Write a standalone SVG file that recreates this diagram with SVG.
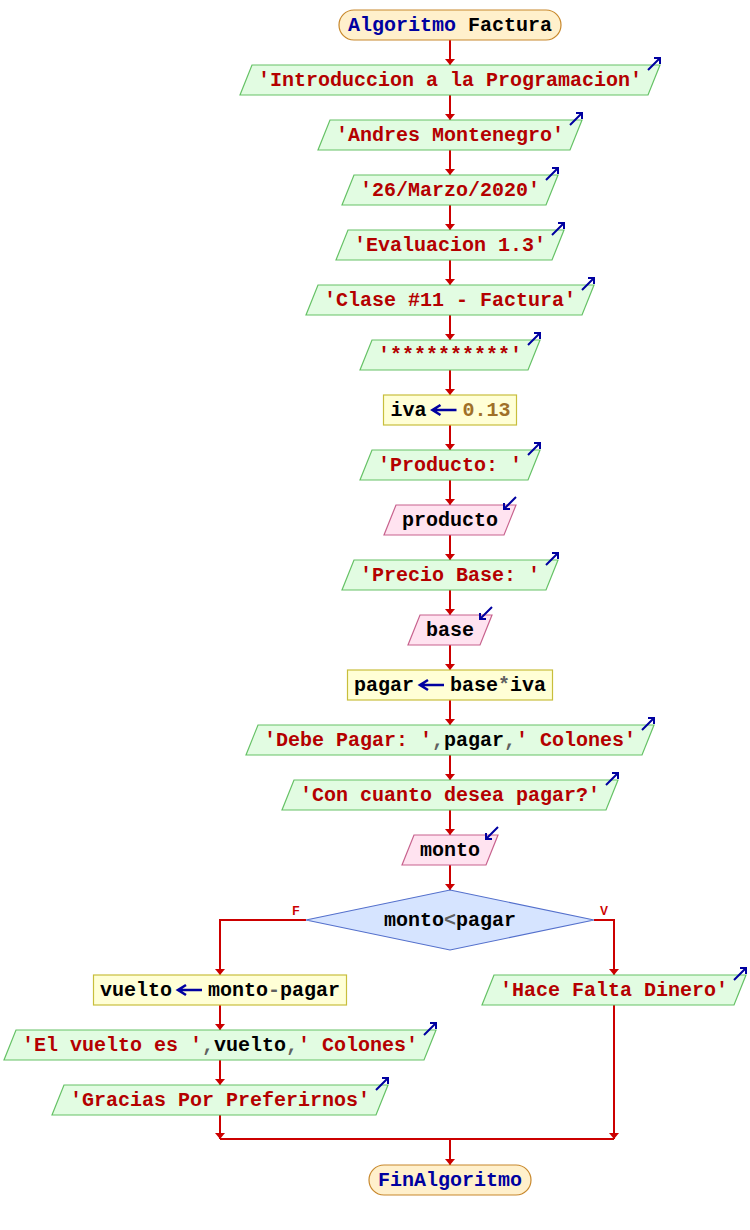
<svg xmlns="http://www.w3.org/2000/svg" xmlns:xlink="http://www.w3.org/1999/xlink" width="750" height="1230" viewBox="0 0 750 1230">
  <style>
    text { font-family: "Liberation Mono", "DejaVu Sans Mono", monospace; font-size: 20px; font-weight: bold; fill: #000; }
    .c { text-anchor: middle; }
    .kw { fill: #0000a0; }
    .str { fill: #b40000; }
    .num { fill: #a07028; }
    .op { fill: #606060; }
    .lbl { font-family: "Liberation Sans", Arial, sans-serif; font-size: 12px; font-weight: bold; fill: #cc0000; text-anchor: middle; }
    .term { fill: #fff0cc; stroke: #c8882c; stroke-width: 1.2; }
    .out { fill: #e2fce2; stroke: #66c266; stroke-width: 1.2; }
    .in { fill: #ffe3f0; stroke: #c8638e; stroke-width: 1.2; }
    .asg { fill: #ffffd6; stroke: #c8be3c; stroke-width: 1.2; }
    .dec { fill: #d6e4ff; stroke: #5470cc; stroke-width: 1.2; }
    .icon { fill: none; stroke: #0000a0; stroke-width: 2; }
    .larrow { fill: none; stroke: #0000a0; stroke-width: 2.6; }
    .conn path { fill: none; stroke: #cc0000; stroke-width: 2; }
  </style>
  <defs>
    <marker id="ah" viewBox="0 0 6 10" refX="6" refY="5" markerWidth="6" markerHeight="10" markerUnits="userSpaceOnUse" orient="auto">
      <path d="M0,0 L6,5 L0,10 z" fill="#cc0000"/>
    </marker>
    <!-- output marker: arrow leaving the top-right corner -->
    <path id="outIcon" class="icon" d="M-12,5 L0,-7 M-6,-7 L0,-7 L0,-1"/>
    <!-- input marker: arrow entering the top-right corner -->
    <path id="inIcon" class="icon" d="M0,-8 L-12,4 M-12,-2 L-12,4 L-6,4"/>
  </defs>

  <!-- connectors -->
  <g id="connectors" class="conn">
    <path d="M450,40 V65" marker-end="url(#ah)"/>
    <path d="M450,95 V120" marker-end="url(#ah)"/>
    <path d="M450,150 V175" marker-end="url(#ah)"/>
    <path d="M450,205 V230" marker-end="url(#ah)"/>
    <path d="M450,260 V285" marker-end="url(#ah)"/>
    <path d="M450,315 V340" marker-end="url(#ah)"/>
    <path d="M450,370 V395" marker-end="url(#ah)"/>
    <path d="M450,425 V450" marker-end="url(#ah)"/>
    <path d="M450,480 V505" marker-end="url(#ah)"/>
    <path d="M450,535 V560" marker-end="url(#ah)"/>
    <path d="M450,590 V615" marker-end="url(#ah)"/>
    <path d="M450,645 V670" marker-end="url(#ah)"/>
    <path d="M450,700 V725" marker-end="url(#ah)"/>
    <path d="M450,755 V780" marker-end="url(#ah)"/>
    <path d="M450,810 V835" marker-end="url(#ah)"/>
    <path d="M450,865 V890" marker-end="url(#ah)"/>
    <path d="M306,920 H220 V975" marker-end="url(#ah)"/>
    <path d="M594,920 H614 V975" marker-end="url(#ah)"/>
    <path d="M220,1005 V1030" marker-end="url(#ah)"/>
    <path d="M220,1060 V1085" marker-end="url(#ah)"/>
    <path d="M220,1115 V1139" marker-end="url(#ah)"/>
    <path d="M614,1005 V1139" marker-end="url(#ah)"/>
    <path d="M220,1139 H614"/>
    <path d="M450,1139 V1165" marker-end="url(#ah)"/>
    <text class="lbl" x="296" y="915">F</text>
    <text class="lbl" x="604" y="915">V</text>
  </g>

  <g id="start">
    <rect class="term" x="339" y="10" width="222" height="30" rx="15"/>
    <text class="c" x="450" y="31"><tspan class="kw">Algoritmo</tspan> Factura</text>
  </g>

  <g id="out1">
    <polygon class="out" points="252,65 660,65 648,95 240,95"/>
    <text class="c str" x="450" y="86">'Introduccion a la Programacion'</text>
    <use xlink:href="#outIcon" x="660" y="65"/>
  </g>

  <g id="out2">
    <polygon class="out" points="330,120 582,120 570,150 318,150"/>
    <text class="c str" x="450" y="141">'Andres Montenegro'</text>
    <use xlink:href="#outIcon" x="582" y="120"/>
  </g>

  <g id="out3">
    <polygon class="out" points="354,175 558,175 546,205 342,205"/>
    <text class="c str" x="450" y="196">'26/Marzo/2020'</text>
    <use xlink:href="#outIcon" x="558" y="175"/>
  </g>

  <g id="out4">
    <polygon class="out" points="348,230 564,230 552,260 336,260"/>
    <text class="c str" x="450" y="251">'Evaluacion 1.3'</text>
    <use xlink:href="#outIcon" x="564" y="230"/>
  </g>

  <g id="out5">
    <polygon class="out" points="318,285 594,285 582,315 306,315"/>
    <text class="c str" x="450" y="306">'Clase #11 - Factura'</text>
    <use xlink:href="#outIcon" x="594" y="285"/>
  </g>

  <g id="out6">
    <polygon class="out" points="372,340 540,340 528,370 360,370"/>
    <text class="c str" x="450" y="361">'**********'</text>
    <use xlink:href="#outIcon" x="540" y="340"/>
  </g>

  <g id="asg-iva">
    <rect class="asg" x="383.5" y="395" width="133" height="30"/>
    <text x="390.5" y="416">iva<tspan class="num" x="462.5">0.13</tspan></text>
    <path class="larrow" d="M456.5,410 H432.5 M440.5,405 L432.5,410 L440.5,415"/>
  </g>

  <g id="out7">
    <polygon class="out" points="372,450 540,450 528,480 360,480"/>
    <text class="c str" x="450" y="471">'Producto: '</text>
    <use xlink:href="#outIcon" x="540" y="450"/>
  </g>

  <g id="in-producto">
    <polygon class="in" points="396,505 516,505 504,535 384,535"/>
    <text class="c" x="450" y="526">producto</text>
    <use xlink:href="#inIcon" x="516" y="505"/>
  </g>

  <g id="out8">
    <polygon class="out" points="354,560 558,560 546,590 342,590"/>
    <text class="c str" x="450" y="581">'Precio Base: '</text>
    <use xlink:href="#outIcon" x="558" y="560"/>
  </g>

  <g id="in-base">
    <polygon class="in" points="420,615 492,615 480,645 408,645"/>
    <text class="c" x="450" y="636">base</text>
    <use xlink:href="#inIcon" x="492" y="615"/>
  </g>

  <g id="asg-pagar">
    <rect class="asg" x="347.5" y="670" width="205" height="30"/>
    <text x="354" y="691">pagar<tspan x="450">base</tspan><tspan class="op">*</tspan>iva</text>
    <path class="larrow" d="M444,685 H420 M428,680 L420,685 L428,690"/>
  </g>

  <g id="out9">
    <polygon class="out" points="258,725 654,725 642,755 246,755"/>
    <text class="c" x="450" y="746"><tspan class="str">'Debe Pagar: '</tspan><tspan class="op">,</tspan>pagar<tspan class="op">,</tspan><tspan class="str">' Colones'</tspan></text>
    <use xlink:href="#outIcon" x="654" y="725"/>
  </g>

  <g id="out10">
    <polygon class="out" points="294,780 618,780 606,810 282,810"/>
    <text class="c str" x="450" y="801">'Con cuanto desea pagar?'</text>
    <use xlink:href="#outIcon" x="618" y="780"/>
  </g>

  <g id="in-monto">
    <polygon class="in" points="414,835 498,835 486,865 402,865"/>
    <text class="c" x="450" y="856">monto</text>
    <use xlink:href="#inIcon" x="498" y="835"/>
  </g>

  <g id="decision">
    <polygon class="dec" points="450,890 594,920 450,950 306,920"/>
    <text class="c" x="450" y="926">monto<tspan class="op">&lt;</tspan>pagar</text>
  </g>

  <g id="asg-vuelto">
    <rect class="asg" x="93.5" y="975" width="253" height="30"/>
    <text x="100" y="996">vuelto<tspan x="208">monto</tspan><tspan class="op">-</tspan>pagar</text>
    <path class="larrow" d="M202,990 H178 M186,985 L178,990 L186,995"/>
  </g>

  <g id="out11">
    <polygon class="out" points="16,1030 436,1030 424,1060 4,1060"/>
    <text class="c" x="220" y="1051"><tspan class="str">'El vuelto es '</tspan><tspan class="op">,</tspan>vuelto<tspan class="op">,</tspan><tspan class="str">' Colones'</tspan></text>
    <use xlink:href="#outIcon" x="436" y="1030"/>
  </g>

  <g id="out12">
    <polygon class="out" points="64,1085 388,1085 376,1115 52,1115"/>
    <text class="c str" x="220" y="1106">'Gracias Por Preferirnos'</text>
    <use xlink:href="#outIcon" x="388" y="1085"/>
  </g>

  <g id="out13">
    <polygon class="out" points="494,975 746,975 734,1005 482,1005"/>
    <text class="c str" x="614" y="996">'Hace Falta Dinero'</text>
    <use xlink:href="#outIcon" x="746" y="975"/>
  </g>

  <g id="end">
    <rect class="term" x="369" y="1165" width="162" height="30" rx="15"/>
    <text class="c kw" x="450" y="1186">FinAlgoritmo</text>
  </g>
</svg>
